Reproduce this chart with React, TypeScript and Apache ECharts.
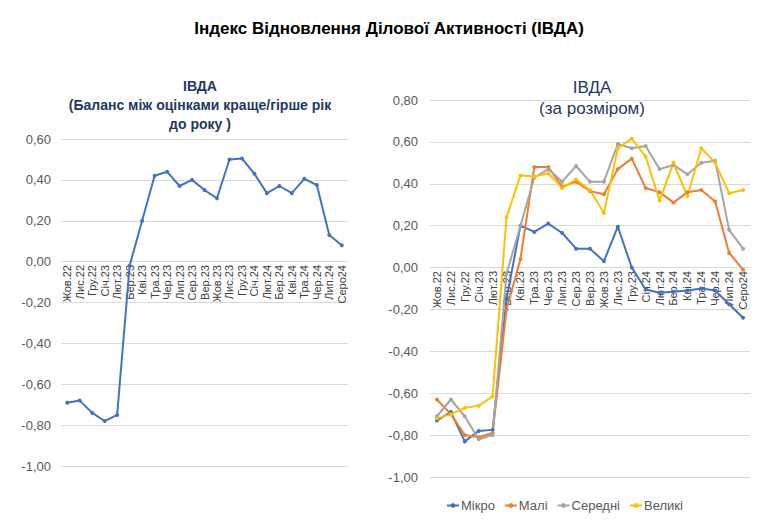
import React, { useEffect, useRef } from "react";
import * as echarts from "echarts";

const categories = [
  "Жов.22", "Лис.22", "Гру.22", "Січ.23", "Лют.23", "Бер.23", "Кві.23", "Тра.23",
  "Чер.23", "Лип.23", "Сер.23", "Вер.23", "Жов.23", "Лис.23", "Гру.23", "Січ.24",
  "Лют.24", "Бер.24", "Кві.24", "Тра.24", "Чер.24", "Лип.24", "Серо24",
];

const ivda = [-0.69, -0.68, -0.74, -0.78, -0.75, -0.02, 0.2, 0.42, 0.44, 0.37, 0.4, 0.35, 0.31, 0.5, 0.505, 0.43, 0.335, 0.37, 0.335, 0.405, 0.375, 0.13, 0.08];

const mikro = [-0.73, -0.69, -0.83, -0.78, -0.775, -0.15, 0.2, 0.17, 0.21, 0.165, 0.09, 0.09, 0.03, 0.195, 0.0, -0.105, -0.12, -0.115, -0.11, -0.1, -0.11, -0.175, -0.24];
const mali = [-0.63, -0.7, -0.8, -0.81, -0.79, -0.2, 0.04, 0.48, 0.48, 0.385, 0.41, 0.365, 0.35, 0.47, 0.52, 0.38, 0.36, 0.31, 0.36, 0.37, 0.315, 0.07, -0.01];
const seredni = [-0.71, -0.63, -0.71, -0.82, -0.8, -0.03, 0.2, 0.43, 0.47, 0.41, 0.485, 0.41, 0.41, 0.59, 0.57, 0.58, 0.47, 0.49, 0.445, 0.5, 0.51, 0.18, 0.09];
const velyki = [-0.72, -0.7, -0.67, -0.66, -0.615, 0.24, 0.44, 0.435, 0.45, 0.38, 0.42, 0.37, 0.26, 0.57, 0.615, 0.53, 0.32, 0.5, 0.34, 0.57, 0.5, 0.355, 0.37];

const seriesNames = ["Мікро", "Малі", "Середні", "Великі"];
const seriesColors = ["#4472C4", "#ED7D31", "#A5A5A5", "#FFC000"];

const FONT = "Liberation Sans, Arial, sans-serif";
const NAVY = "#1F3864";

const fmt = (v: number) => v.toFixed(2).replace(".", ",");

export default function App() {
  const ref = useRef<HTMLDivElement>(null);
  useEffect(() => {
    if (!ref.current) return;
    const chart = echarts.init(ref.current, undefined, { renderer: "svg" });
    const xAxisCommon = {
      type: "category" as const,
      data: categories,
      boundaryGap: true,
      position: "bottom" as const,
      axisLine: { show: false, onZero: false },
      axisTick: { show: false },
      axisLabel: {
        rotate: 90,
        interval: 0,
        color: "#404040",
        fontSize: 11,
        fontFamily: FONT,
        margin: 4,
      },
    };
    const yAxisCommon = {
      type: "value" as const,
      interval: 0.2,
      axisLine: { show: false },
      axisTick: { show: false },
      splitLine: { lineStyle: { color: "#d9d9d9", width: 1 } },
      axisLabel: {
        color: "#595959",
        fontSize: 13,
        fontFamily: FONT,
        formatter: fmt,
      },
    };
    const lineStyleSeries = (name: string, data: number[], color: string, idx: number) => ({
      name,
      type: "line" as const,
      data,
      xAxisIndex: idx,
      yAxisIndex: idx,
      symbol: "circle",
      symbolSize: 4,
      lineStyle: { width: 2, color },
      itemStyle: { color },
      z: 3,
    });
    chart.setOption({
      animation: false,
      backgroundColor: "#ffffff",
      textStyle: { fontFamily: FONT },
      title: [
        {
          text: "Індекс Відновлення Ділової Активності (ІВДА)",
          left: 384,
          top: 15,
          textAlign: "center",
          textStyle: { fontSize: 17, fontWeight: "bold", color: "#000000", fontFamily: FONT },
        },
        {
          text: "ІВДА\n(Баланс між оцінками краще/гірше рік\nдо року )",
          left: 195,
          top: 71,
          textAlign: "center",
          textStyle: { fontSize: 14, fontWeight: "bold", color: NAVY, fontFamily: FONT, lineHeight: 19, align: "center" },
        },
        {
          text: "ІВДА\n(за розміром)",
          left: 587,
          top: 72,
          textAlign: "center",
          textStyle: { fontSize: 17, fontWeight: "normal", color: NAVY, fontFamily: FONT, lineHeight: 21, align: "center" },
        },
      ],
      legend: {
        data: seriesNames,
        left: 441,
        top: 494,
        itemWidth: 12,
        itemHeight: 6,
        itemGap: 9,
        textStyle: { color: "#595959", fontSize: 13, fontFamily: FONT, padding: [0, 0, 0, -3] },
      },
      grid: [
        { left: 61, width: 287, top: 139, height: 327 },
        { left: 430, width: 320, top: 100, height: 377 },
      ],
      xAxis: [
        { ...xAxisCommon, gridIndex: 0, offset: -205 },
        { ...xAxisCommon, gridIndex: 1, offset: -210 },
      ],
      yAxis: [
        { ...yAxisCommon, gridIndex: 0, min: -1, max: 0.6, axisLabel: { ...yAxisCommon.axisLabel, margin: 10 } },
        { ...yAxisCommon, gridIndex: 1, min: -1, max: 0.8, axisLabel: { ...yAxisCommon.axisLabel, margin: 12 } },
      ],
      series: [
        lineStyleSeries("ІВДА", ivda, "#4472C4", 0),
        lineStyleSeries(seriesNames[0], mikro, seriesColors[0], 1),
        lineStyleSeries(seriesNames[1], mali, seriesColors[1], 1),
        lineStyleSeries(seriesNames[2], seredni, seriesColors[2], 1),
        lineStyleSeries(seriesNames[3], velyki, seriesColors[3], 1),
      ],
    });
    return () => chart.dispose();
  }, []);
  return (
    <div
      ref={ref}
      style={{ position: "absolute", left: 0, top: 0, width: 764, height: 532 }}
    />
  );
}
